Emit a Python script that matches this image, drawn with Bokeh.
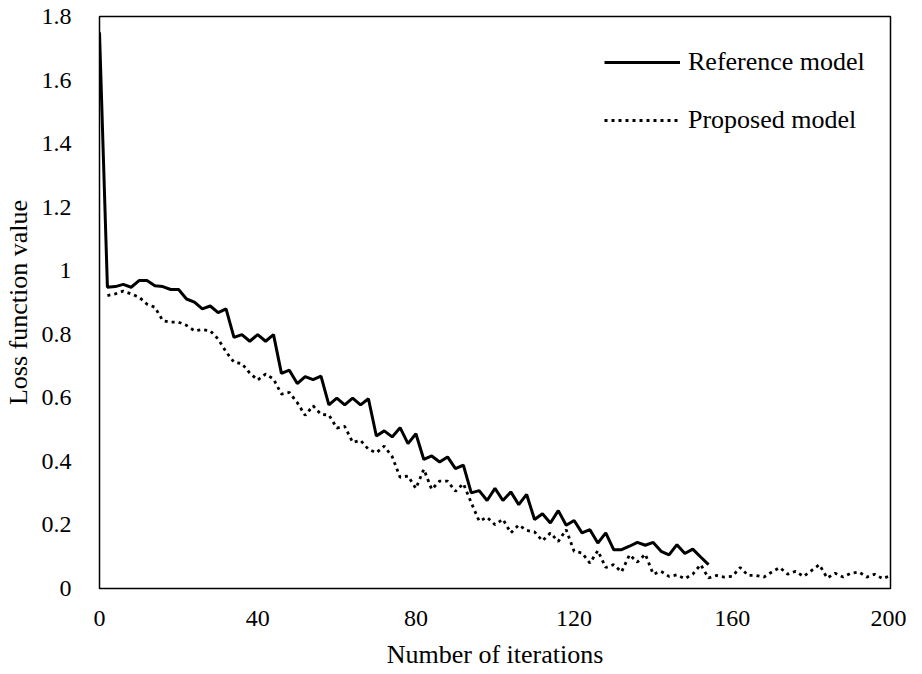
from bokeh.plotting import figure
from bokeh.models import Range1d, Legend, LegendItem, FixedTicker
from bokeh.embed import file_html
from bokeh.resources import INLINE

# ---- data ----
ref_iter = list(range(0, 156, 2))
ref_loss = [1.75, 0.948, 0.950, 0.957, 0.948, 0.969, 0.969, 0.953, 0.950, 0.941,
            0.941, 0.911, 0.901, 0.880, 0.889, 0.868, 0.880, 0.790, 0.799, 0.778,
            0.799, 0.778, 0.799, 0.677, 0.687, 0.645, 0.667, 0.657, 0.668, 0.578,
            0.599, 0.578, 0.599, 0.578, 0.597, 0.480, 0.496, 0.477, 0.506, 0.456,
            0.487, 0.406, 0.417, 0.398, 0.414, 0.377, 0.388, 0.301, 0.308, 0.277,
            0.315, 0.277, 0.304, 0.264, 0.296, 0.217, 0.235, 0.206, 0.245, 0.199,
            0.214, 0.175, 0.185, 0.143, 0.175, 0.122, 0.122, 0.133, 0.145, 0.136,
            0.145, 0.117, 0.106, 0.138, 0.110, 0.124, 0.099, 0.075]

prop_iter = list(range(2, 202, 2))
prop_loss = [0.922, 0.927, 0.936, 0.927, 0.917, 0.895, 0.885, 0.843, 0.838, 0.838,
             0.828, 0.811, 0.815, 0.811, 0.785, 0.745, 0.712, 0.708, 0.678, 0.656,
             0.675, 0.659, 0.612, 0.617, 0.585, 0.545, 0.575, 0.548, 0.546, 0.505,
             0.510, 0.460, 0.466, 0.438, 0.427, 0.448, 0.415, 0.350, 0.354, 0.315,
             0.375, 0.312, 0.338, 0.338, 0.306, 0.330, 0.270, 0.212, 0.224, 0.201,
             0.218, 0.175, 0.200, 0.183, 0.178, 0.150, 0.175, 0.148, 0.185, 0.117,
             0.112, 0.080, 0.119, 0.066, 0.075, 0.052, 0.106, 0.083, 0.108, 0.045,
             0.054, 0.038, 0.043, 0.031, 0.045, 0.075, 0.033, 0.041, 0.036, 0.038,
             0.066, 0.041, 0.041, 0.036, 0.052, 0.066, 0.045, 0.054, 0.038, 0.056,
             0.075, 0.033, 0.048, 0.036, 0.048, 0.052, 0.036, 0.045, 0.031, 0.041]

x_ticks = [0, 40, 80, 120, 160, 200]
y_ticks = [0, 0.2, 0.4, 0.6, 0.8, 1.0, 1.2, 1.4, 1.6, 1.8]
y_tick_labels = {0: "0", 0.2: "0.2", 0.4: "0.4", 0.6: "0.6", 0.8: "0.8",
                 1.0: "1", 1.2: "1.2", 1.4: "1.4", 1.6: "1.6", 1.8: "1.8"}

FONT = "Liberation Serif"

p = figure(width=906, height=671, output_backend="svg", toolbar_location=None,
           x_range=Range1d(0, 200), y_range=Range1d(0, 1.8),
           min_border_left=91, min_border_right=16, min_border_top=16,
           min_border_bottom=76, background_fill_color="white",
           border_fill_color="white")

p.outline_line_color = "black"
p.outline_line_width = 1.5
p.xgrid.visible = False
p.ygrid.visible = False

r1 = p.line(ref_iter, ref_loss, line_color="black", line_width=3)
r2 = p.line(prop_iter, prop_loss, line_color="black", line_width=2.8,
            line_dash="3 4")

for ax in (p.xaxis[0], p.yaxis[0]):
    ax.axis_line_color = None
    ax.major_tick_line_color = None
    ax.minor_tick_line_color = None
    ax.major_label_text_font = FONT
    ax.major_label_text_font_size = "24px"
    ax.major_label_text_color = "black"
    ax.axis_label_text_font = FONT
    ax.axis_label_text_font_size = "26px"
    ax.axis_label_text_font_style = "normal"
    ax.axis_label_text_color = "black"

p.xaxis.ticker = FixedTicker(ticks=x_ticks)
p.yaxis.ticker = FixedTicker(ticks=y_ticks)
p.yaxis.major_label_overrides = y_tick_labels
p.xaxis.axis_label = "Number of iterations"
p.yaxis.axis_label = "Loss function value"
p.xaxis.major_label_standoff = 16
p.yaxis.major_label_standoff = 22
p.xaxis.axis_label_standoff = 11
p.yaxis.axis_label_standoff = 6

legend = Legend(items=[LegendItem(label="Reference model", renderers=[r1]),
                       LegendItem(label="Proposed model", renderers=[r2])],
                location=(505, 453), padding=0, margin=0,
                border_line_color=None, background_fill_alpha=0,
                glyph_width=76, glyph_height=30, label_height=30,
                label_standoff=8, spacing=28,
                label_text_font=FONT, label_text_font_size="26px",
                label_text_color="black")
p.add_layout(legend)

open("out.html", "w").write(file_html(p, INLINE))
